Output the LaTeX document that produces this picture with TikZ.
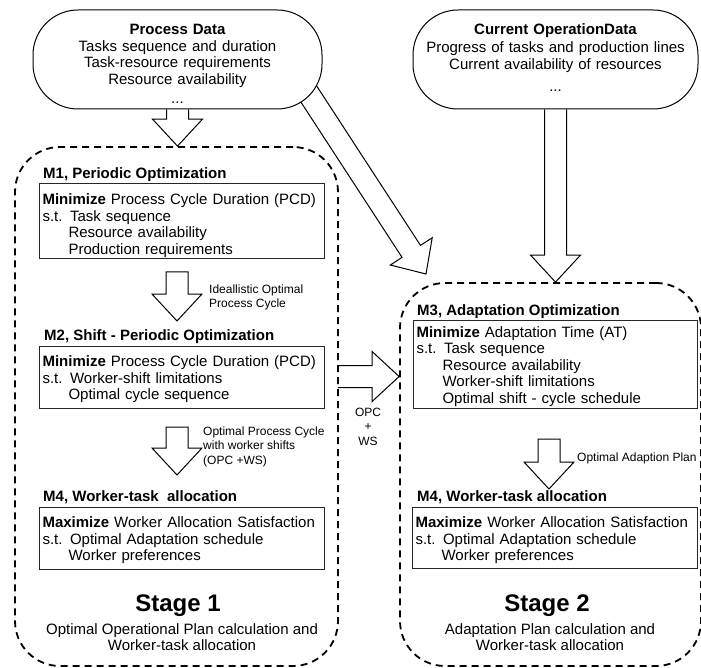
\documentclass[tikz,border=0pt]{standalone}
\usepackage{fontspec}
\setmainfont{Liberation Sans}
\usetikzlibrary{calc,backgrounds}

\newcommand{\mainsize}{\fontsize{15}{16.5}\selectfont}
\newcommand{\labelsize}{\fontsize{12}{14.5}\selectfont}
\newcommand{\stagesize}{\fontsize{24}{28}\selectfont\bfseries}
\newcommand{\stind}{\hspace*{26pt}}

% hollow block arrow from #2 to the tip #3, #1 closes the tail if wanted
\newcommand{\blockarrow}[3][]{%
  \coordinate (hb) at ($(#3)!27pt!(#2)$);
  \path[draw, line width=1pt, line join=miter] ($(#2)!11pt!90:(#3)$) -- ($(hb)!11pt!-90:(#2)$)
    -- ($(hb)!25pt!-90:(#2)$) -- (#3) -- ($(hb)!25pt!90:(#2)$)
    -- ($(hb)!11pt!90:(#2)$) -- ($(#2)!11pt!-90:(#3)$) #1;
}

\tikzset{
  datanode/.style={draw, line width=1pt, rounded corners=45pt, fill=white, align=center,
    font=\mainsize, minimum height=99pt, inner xsep=3pt, inner ysep=0pt,
    text height=25pt, text depth=74pt},
  stagebox/.style={draw, dash pattern=on 7pt off 5pt, line width=1.8pt, rounded corners=45pt},
  optbox/.style={draw=black!85, line width=1.1pt, fill=white, anchor=north west, align=left,
    text width=279pt, inner xsep=3pt, inner ysep=3pt, font=\mainsize,
    text height=17pt, text depth=39pt},
  mtitle/.style={anchor=base west, inner sep=0pt, font=\mainsize\bfseries},
  arrowlabel/.style={inner sep=0pt, font=\labelsize},
}

\begin{document}
\begin{tikzpicture}[x=1pt,y=-1pt]
\useasboundingbox (0,0) rectangle (701,668);

% input data
\node[datanode, text width=283pt] (pd) at (177.5,59.5) {\textbf{Process Data}\\Tasks sequence and duration\\Task-resource requirements\\Resource availability\\[2.5pt]...};
\node[datanode, text width=279pt, font=\fontsize{15}{17.5}\selectfont] (cod) at (555.5,59.5) {\textbf{Current OperationData}\\Progress of tasks and production lines\\Current availability of resources\\[4pt]...};

% the two stages
\node[stagebox, minimum width=323pt, minimum height=519pt] (s1) at (176.5,406.5) {};
\node[stagebox, minimum width=301pt, minimum height=383pt] (s2) at (550.5,474.5) {};

% stage 1
\node[mtitle] (m1t) at (43,178.5) {M1, Periodic Optimization};
\node[optbox, text height=18pt, text depth=51pt] (m1) at (39,183) {\textbf{Minimize} Process Cycle Duration (PCD)\\s.t. Task sequence\\\stind Resource availability\\\stind Production requirements};
\node[mtitle] (m2t) at (44,340) {M2, Shift - Periodic Optimization};
\node[optbox] (m2) at (39,346) {\textbf{Minimize} Process Cycle Duration (PCD)\\s.t. Worker-shift limitations\\\stind Optimal cycle sequence};
\node[mtitle] (m4at) at (43,501) {M4, Worker-task~ allocation};
\node[optbox] (m4a) at (39,507) {\textbf{Maximize} Worker Allocation Satisfaction\\s.t. Optimal Adaptation schedule\\\stind Worker preferences};
\node[font=\stagesize, anchor=base, inner sep=0pt] (s1name) at (178,611.5) {Stage 1};
\node[align=center, font=\mainsize, anchor=north, inner sep=0pt] (s1desc) at (182,623) {Optimal Operational Plan calculation and\\Worker-task allocation};

% stage 2
\node[mtitle] (m3t) at (417,315) {M3, Adaptation Optimization};
\node[optbox, text width=278pt, text height=13.5pt, text depth=68.5pt] (m3) at (413,320) {\textbf{Minimize} Adaptation Time (AT)\\s.t. Task sequence\\\stind Resource availability\\\stind Worker-shift limitations\\\stind Optimal shift - cycle schedule};
\node[mtitle] (m4bt) at (417,501) {M4, Worker-task allocation};
\node[optbox, text depth=38pt] (m4b) at (412,507) {\textbf{Maximize} Worker Allocation Satisfaction\\s.t. Optimal Adaptation schedule\\\stind Worker preferences};
\node[font=\stagesize, anchor=base, inner sep=0pt] (s2name) at (547,611.5) {Stage 2};
\node[align=center, font=\mainsize, anchor=north, inner sep=0pt] (s2desc) at (550,623) {Adaptation Plan calculation and\\Worker-task allocation};

% arrow labels
\node[arrowlabel, anchor=north west, align=left] (l2) at (209,284.5) {Ideallistic Optimal\\Process Cycle};
\node[arrowlabel, anchor=north west, align=left] (l3) at (203,426.5) {Optimal Process Cycle\\with worker shifts\\(OPC +WS)};
\node[arrowlabel, anchor=north, align=center] (l4) at (368,407.5) {OPC\\+\\WS};
\node[arrowlabel, anchor=west] (l7) at (577,458) {Optimal Adaption Plan};

% arrow ends
\coordinate (a1e) at (pd.south |- s1.north);
\coordinate (a2s) at (177,272);
\coordinate (a2e) at (177,321);
\coordinate (a3s) at (177,427);
\coordinate (a3e) at (177,475);
\coordinate (a4s) at (338,376.5);
\coordinate (a4e) at (s2.west |- a4s);
\coordinate (a5e) at (cod.south |- s2.north);
\coordinate (a6s) at (299,79);
\coordinate (a6e) at (426,274);
\coordinate (a7s) at (549,439);
\coordinate (a7e) at (549,489);

\begin{pgfonlayer}{background}
\blockarrow{pd.south}{a1e}
\blockarrow[-- cycle]{a2s}{a2e}
\blockarrow[-- cycle]{a3s}{a3e}
\blockarrow{a4s}{a4e}
\blockarrow{cod.south}{a5e}
\blockarrow{a6s}{a6e}
\blockarrow[-- cycle]{a7s}{a7e}
\end{pgfonlayer}
\end{tikzpicture}
\end{document}
